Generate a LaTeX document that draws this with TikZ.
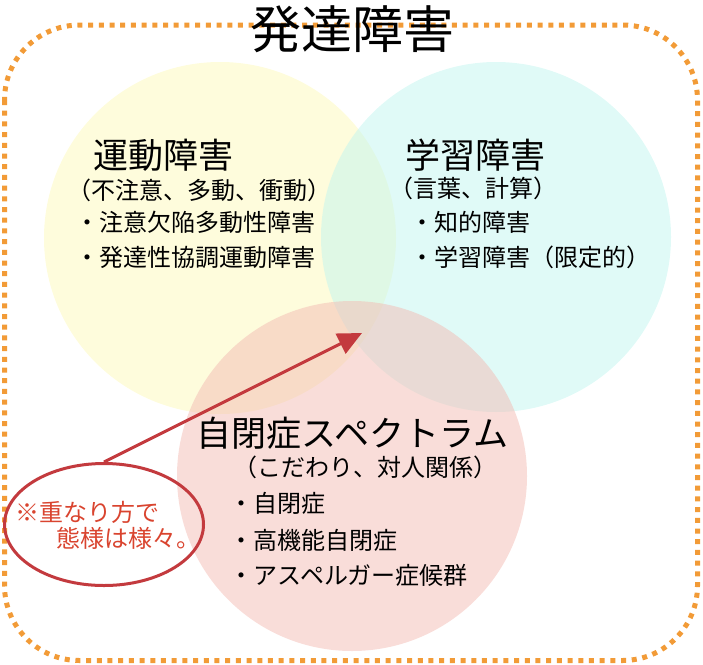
\documentclass[tikz,border=0pt]{standalone}
\usepackage{fontspec}
\setmainfont{Noto Sans CJK JP}
\usetikzlibrary{arrows.meta,shapes.geometric}
\definecolor{dotorange}{HTML}{F29B37}
\definecolor{motorfill}{HTML}{FDF9B9}
\definecolor{learnfill}{HTML}{C1F5EF}
\definecolor{asdfill}{HTML}{F3BBB3}
\definecolor{notered}{HTML}{C33A3E}
\definecolor{notetext}{HTML}{D9442F}
\tikzset{
  head/.style={inner sep=0pt,font=\fontsize{35}{35}\selectfont},
  sub/.style={inner sep=0pt,font=\fontsize{24}{24}\selectfont},
  item/.style={sub,anchor=west}
}

\begin{document}
\begin{tikzpicture}[x=1pt,y=-1pt]
\useasboundingbox (0,0) rectangle (703,664);
\draw[dotorange,line width=5pt,dash pattern=on 5pt off 5.7pt,rounded corners=75pt] (4.5,25) rectangle (697.5,660.5);
\fill[motorfill,opacity=.5] (220,238) circle[radius=176pt];
\fill[learnfill,opacity=.5] (496,237) circle[radius=175pt];
\fill[asdfill,opacity=.5] (352,476) circle[radius=175pt];
\node[inner sep=0pt,font=\fontsize{51}{51}\selectfont] (title) at (352,29) {発達障害};
\node[head] (motor) at (163,155) {運動障害};
\node[sub] (motorsub) at (199.5,190) {（不注意、多動、衝動）};
\node[item] (motora) at (75.5,222) {・注意欠陥多動性障害};
\node[item] (motorb) at (75.5,257) {・発達性協調運動障害};
\node[head] (learn) at (475,155) {学習障害};
\node[sub] (learnsub) at (473.5,188) {（言葉、計算）};
\node[item] (learna) at (410.5,222) {・知的障害};
\node[item] (learnb) at (410.5,257) {・学習障害（限定的）};
\node[head] (asd) at (352.5,433) {自閉症スペクトラム};
\node[sub] (asdsub) at (365.5,467) {（こだわり、対人関係）};
\node[item] (asda) at (229.5,503) {・自閉症};
\node[item] (asdb) at (229.5,540) {・高機能自閉症};
\node[item] (asdc) at (229.5,575) {・アスペルガー症候群};
\node[draw=notered,line width=3pt,ellipse,minimum width=199pt,minimum height=122pt,inner sep=0pt] (note) at (104,524.5) {};
\node[inner sep=0pt,align=left,text=notetext,font=\fontsize{24}{26}\selectfont] (notetext) at (108,525) {※重なり方で\\\hspace{1.67em}態様は様々。};
\coordinate (tip) at (362,333);
\draw[notered,line width=3pt,-{Triangle[length=24pt,width=22pt]}] (note.north) -- (tip);
\end{tikzpicture}
\end{document}
